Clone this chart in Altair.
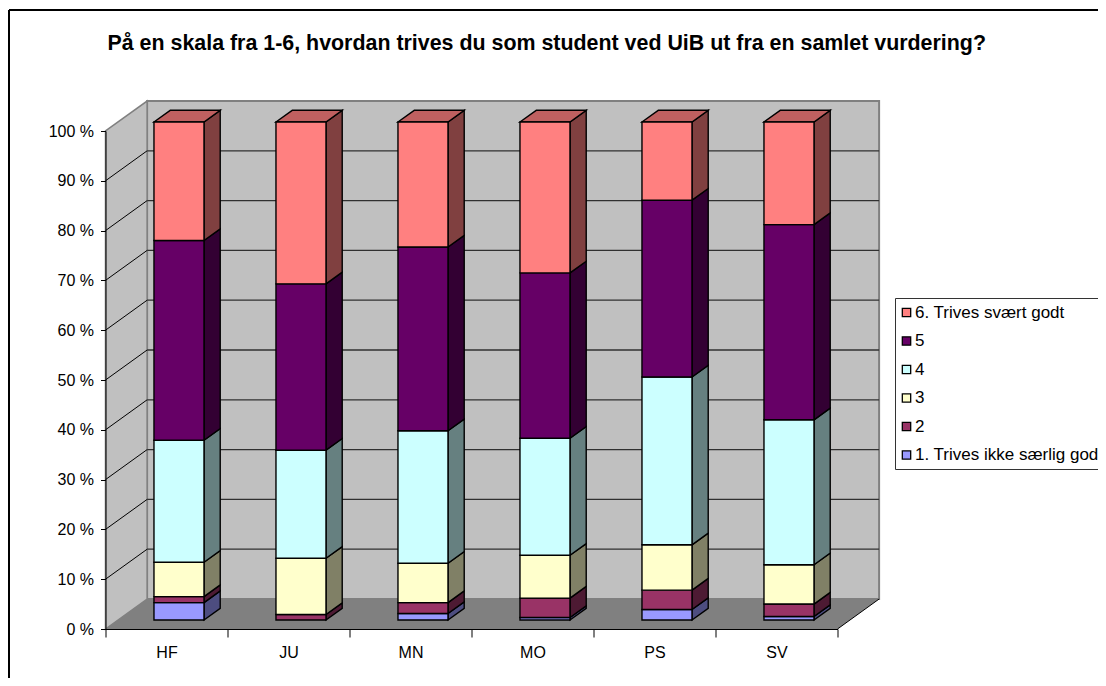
import altair as alt
import pandas as pd

TITLE = "På en skala fra 1-6, hvordan trives du som student ved UiB ut fra en samlet vurdering?"
CATEGORIES = ["HF", "JU", "MN", "MO", "PS", "SV"]
SERIES = ["1. Trives ikke særlig god", "2", "3", "4", "5", "6. Trives svært godt"]
S1 = [3.5, 0.0, 1.3, 0.5, 2.1, 0.7]
S2 = [1.2, 1.1, 2.2, 3.9, 3.9, 2.5]
S3 = [6.9, 11.3, 7.9, 8.6, 9.1, 7.9]
S4 = [24.5, 21.7, 26.6, 23.5, 33.7, 29.1]
S5 = [40.1, 33.4, 36.9, 33.2, 35.5, 39.2]
S6 = [23.8, 32.5, 25.1, 30.3, 15.7, 20.6]
FRONT = ["#9999FF", "#993366", "#FFFFCC", "#CCFFFF", "#660066", "#FF8080"]
SIDE = ["#4D4D80", "#4D1A33", "#808066", "#668080", "#330033", "#804040"]
TOP = "#BF6060"
VALUES = [S1, S2, S3, S4, S5, S6]
TICKS = list(range(0, 101, 10))

# oblique projection of the depth axis, in data units
DX, DY = 0.341, 6.02
D0, D1 = 0.30, 0.69
BAR_W = 0.41

xs = alt.Scale(domain=[0, 6], nice=False, zero=False)
ys = alt.Scale(domain=[0, 100], nice=False, zero=False)
y_axis = alt.Axis(
    title=None, orient="left", values=TICKS, labelExpr="datum.value + ' %'", tickSize=5,
    tickColor="black", domainColor="black", labelFont="Liberation Sans", labelFontSize=16,
    labelColor="black", labelPadding=7, zindex=1, grid=False,
)
X = lambda f="x": alt.X(f"{f}:Q", scale=xs, axis=None)
Y = lambda f="y": alt.Y(f"{f}:Q", scale=ys, axis=y_axis)
X2 = lambda f="x2": alt.X2(f"{f}:Q")
Y2 = lambda f="y2": alt.Y2(f"{f}:Q")

fronts, sides, tops = [], [], []
for c, cat in enumerate(CATEGORIES):
    base = 0.0
    left = c + 0.5 - BAR_W / 2
    right = left + BAR_W
    for s, name in enumerate(SERIES):
        v = VALUES[s][c]
        if v > 0:
            fronts.append(dict(cat=cat, series=name, x=left + D0 * DX, x2=right + D0 * DX,
                               y=base + D0 * DY, y2=base + v + D0 * DY))
            for d in (D0, D1):
                sides.append(dict(face=f"{cat}{s}", fill=SIDE[s], x=right + d * DX,
                                  y=base + d * DY, y2=base + v + d * DY))
        base += v
    for d in (D0, D1):
        tops.append(dict(face=cat, x=left + d * DX, x2=right + d * DX, y=base + d * DY))

fronts, sides, tops = map(pd.DataFrame, (fronts, sides, tops))

back = alt.Chart(pd.DataFrame([dict(x=DX, x2=6 + DX, y=DY, y2=100 + DY)])).mark_rect(
    fill="#C0C0C0", stroke="#808080", strokeWidth=2
).encode(x=X(), x2=X2(), y=Y(), y2=Y2())

left_wall = alt.Chart(pd.DataFrame([dict(x=0, y=0, y2=100), dict(x=DX, y=DY, y2=100 + DY)])).mark_area(
    fill="#C0C0C0", stroke="#808080", strokeWidth=1.5
).encode(x=X(), y=Y(), y2=Y2())

floor = alt.Chart(pd.DataFrame([dict(x=0, x2=6, y=0), dict(x=DX, x2=6 + DX, y=DY)])).mark_area(
    orient="horizontal", fill="#808080"
).encode(x=X(), x2=X2(), y=Y())

floor_edge = alt.Chart(pd.DataFrame([dict(x=6, y=0), dict(x=6 + DX, y=DY)])).mark_line(
    color="black", strokeWidth=1
).encode(x=X(), y=Y())

grid_df = pd.DataFrame([dict(v=t, x=x, y=t + d) for t in TICKS[1:-1] for x, d in ((0, 0), (DX, DY))])
grid_side = alt.Chart(grid_df).mark_line(color="black", strokeWidth=1).encode(
    x=X(), y=Y(), detail="v:Q"
)
grid_back = alt.Chart(pd.DataFrame([dict(x=DX, x2=6 + DX, y=t + DY) for t in TICKS[1:-1]])).mark_rule(
    color="#303030", strokeWidth=1.3
).encode(x=X(), x2=X2(), y=Y())

side = alt.Chart(sides).mark_area(stroke="black", strokeWidth=1.4).encode(
    x=X(), y=Y(), y2=Y2(), fill=alt.Fill("fill:N", scale=None), detail="face:N"
)
top = alt.Chart(tops).mark_area(orient="horizontal", fill=TOP, stroke="black", strokeWidth=1.4).encode(
    x=X(), x2=X2(), y=Y(), detail="face:N"
)
front = alt.Chart(fronts).mark_bar(stroke="black", strokeWidth=1.4).encode(
    x=X(), x2=X2(), y=Y(), y2=Y2(),
    fill=alt.Fill(
        "series:N",
        scale=alt.Scale(domain=SERIES[::-1], range=FRONT[::-1]),
        legend=alt.Legend(
            title=None, orient="none", legendX=789.5, legendY=167,
            symbolType="square", symbolSize=70, symbolStrokeColor="black", symbolStrokeWidth=1.3,
            symbolOffset=-3,
            labelFont="Liberation Sans", labelFontSize=17, labelColor="black", labelOffset=0,
            labelLimit=300, rowPadding=10.5, padding=6, strokeColor="#333333", fillColor="white",
        ),
    ),
)

axes = alt.Chart(pd.DataFrame(dict(cat=CATEGORIES, v=[0] * 6))).mark_point(opacity=0).encode(
    x=alt.X(
        "cat:N", sort=CATEGORIES, scale=alt.Scale(type="band", paddingInner=0, paddingOuter=0),
        axis=alt.Axis(
            title=None, orient="bottom", tickBand="extent", tickSize=8, tickColor="black", domainColor="black",
            labelAngle=0, labelFont="Liberation Sans", labelFontSize=16, labelColor="black",
            labelPadding=7, zindex=1, grid=False,
        ),
    ),
    y=alt.Y("v:Q", scale=ys, axis=y_axis),
)

one = pd.DataFrame(dict(a=[0]))
frame_left = alt.Chart(one).mark_rule(color="black", strokeWidth=2).encode(
    x=alt.value(-96.5), y=alt.value(-121), y2=alt.value(560)
)
frame_top = alt.Chart(one).mark_rule(color="black", strokeWidth=2).encode(
    x=alt.value(-96.5), x2=alt.value(1010), y=alt.value(-121)
)
title = alt.Chart(one).mark_text(
    text=TITLE, align="left", baseline="alphabetic",
    font="Liberation Sans", fontSize=21.4, fontWeight="bold", color="black",
).encode(x=alt.value(2), y=alt.value(-81))

chart = alt.layer(
    back, left_wall, floor, floor_edge, grid_side, grid_back, side, top, front, axes,
    frame_left, frame_top, title,
).resolve_scale(x="independent").properties(
    width=732, height=498,
    autosize=alt.AutoSizeParams(type="none"),
    padding={"left": 97.5, "top": 123, "right": 260.5, "bottom": 49},
    background="white",
).configure_view(strokeWidth=0)

chart.save("out.html", embed_options={"renderer": "svg", "actions": False})
